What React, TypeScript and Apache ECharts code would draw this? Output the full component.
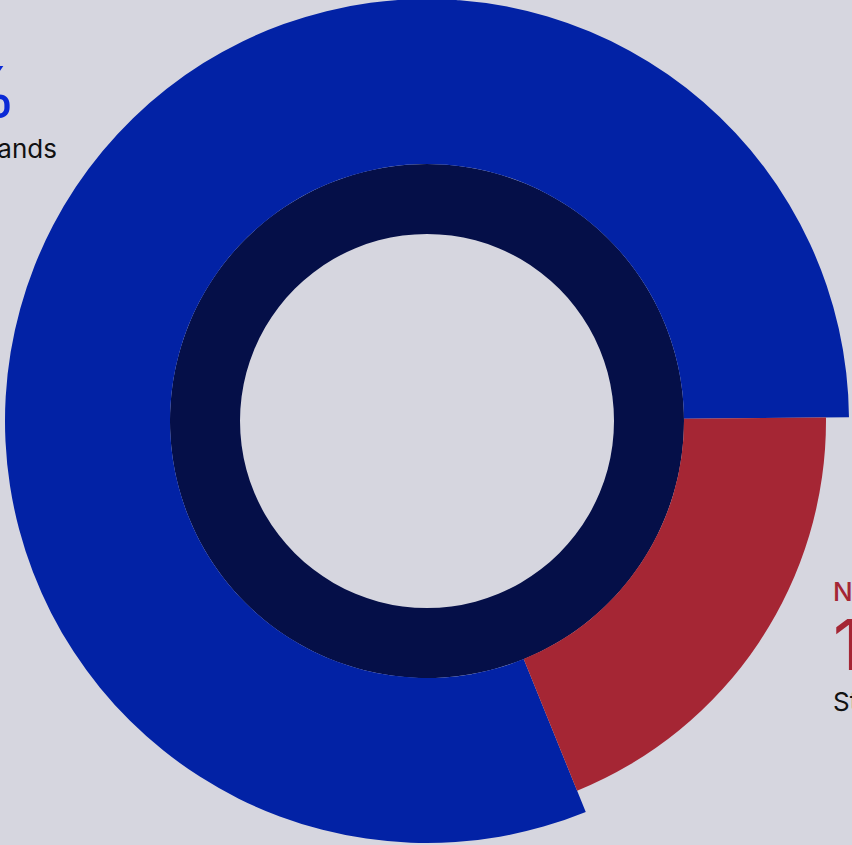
import React, { useEffect, useRef } from "react";
import * as echarts from "echarts";

const categories = ["Non-Dutch", "Netherlands"];
const shareValues = [19, 81];
const labelNames = ["Non-NL", "NL"];
const labelDescriptions = ["Students", "Netherlands"];

const BG = "#d6d6df";
const BLUE = "#0222a5";
const RED = "#a52634";
const NAVY = "#050f48";
const BLUE_TEXT = "#0b2ad6";
const RED_TEXT = "#a52634";

export default function App() {
  const ref = useRef<HTMLDivElement>(null);

  useEffect(() => {
    document.body.style.margin = "0";
    document.body.style.background = BG;
    const chart = echarts.init(ref.current!, undefined, { renderer: "svg" });

    const mkData = (colored: number, color: string) =>
      categories.map((c, i) => ({
        name: c,
        value: shareValues[i],
        itemStyle: { color: i === colored ? color : "transparent" },
        label: { show: i === colored },
      }));

    const labelFormatter = (p: any) => {
      const i = p.dataIndex;
      return `{n|${labelNames[i]}}\n{v|${shareValues[i]}%}\n{s|${labelDescriptions[i]}}`;
    };

    const rich = (color: string, descPad: number) => ({
      n: { fontSize: 26, lineHeight: 32, color, fontFamily: "Inter", fontWeight: 500 },
      v: { fontSize: 70, lineHeight: 74, color, fontFamily: "Inter", fontWeight: 400 },
      s: {
        fontSize: 26,
        lineHeight: 40,
        color: "#111111",
        fontFamily: "Inter",
        padding: [0, 0, 0, descPad],
      },
    });

    const labelPos: Record<number, { x: number; y: number }> = {
      0: { x: 833, y: 575 },
      1: { x: -123, y: 22 },
    };

    const labelLayout = (p: any) => ({
      x: labelPos[p.dataIndex].x,
      y: labelPos[p.dataIndex].y,
      align: "left",
      verticalAlign: "top",
    });

    const labelCfg = (color: string, descPad: number) => ({
      position: "inside",
      overflow: "none",
      align: "left",
      formatter: labelFormatter,
      rich: rich(color, descPad),
    });

    chart.setOption({
      animation: false,
      backgroundColor: BG,
      series: [
        {
          type: "pie",
          center: [427, 421],
          radius: [187, 257],
          silent: true,
          label: { show: false },
          labelLine: { show: false },
          itemStyle: { color: NAVY, borderWidth: 0 },
          data: [{ name: "ring", value: 1 }],
        },
        {
          type: "pie",
          center: [427, 421],
          radius: [257, 422],
          startAngle: 0.5,
          clockwise: true,
          labelLine: { show: false },
          label: labelCfg(BLUE_TEXT, 30),
          labelLayout,
          data: mkData(1, BLUE),
        },
        {
          type: "pie",
          center: [427, 421],
          radius: [257, 399],
          startAngle: 0.5,
          clockwise: true,
          labelLine: { show: false },
          label: labelCfg(RED_TEXT, 0),
          labelLayout,
          data: mkData(0, RED),
        },
      ],
    });
    return () => chart.dispose();
  }, []);

  return (
    <div
      ref={ref}
      style={{ position: "absolute", left: 0, top: 0, width: 852, height: 845, background: BG }}
    />
  );
}
